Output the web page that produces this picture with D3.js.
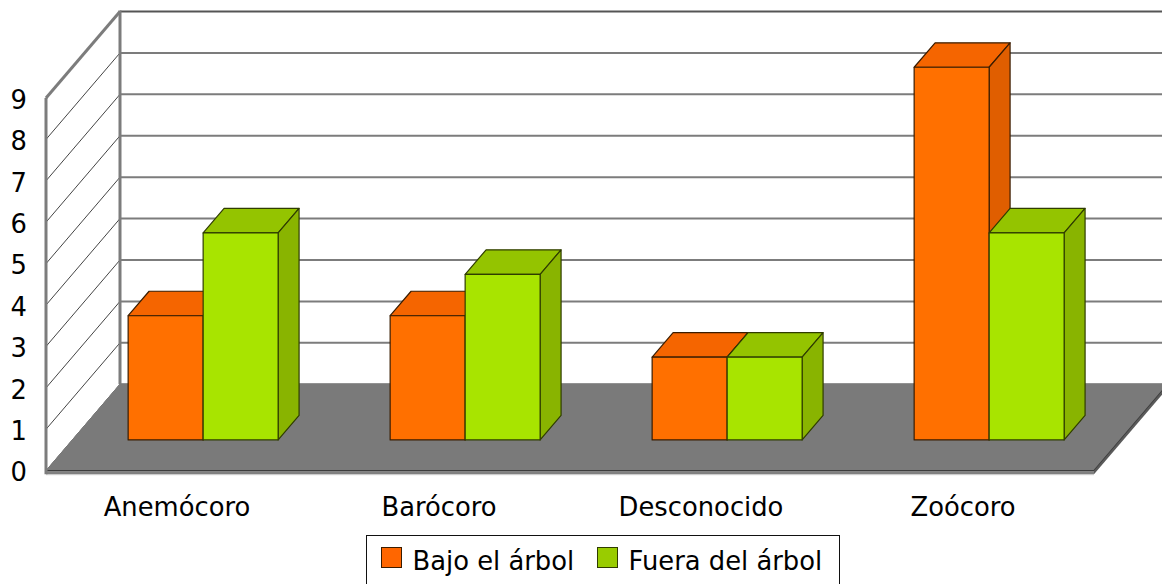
<!DOCTYPE html>
<html><head><meta charset="utf-8">
<script src="https://cdn.jsdelivr.net/npm/d3@7/dist/d3.min.js"></script>
<style>html,body{margin:0;padding:0;background:#fff;overflow:hidden}svg{display:block}text{font-family:"DejaVu Sans",sans-serif;fill:#000}</style>
</head><body><div id="c"></div>
<script>
const categories = ["Anemócoro","Barócoro","Desconocido","Zoócoro"];
const bajo = [3,3,2,9];
const fuera = [5,4,2,5];
const seriesNames = ["Bajo el árbol","Fuera del árbol"];
const yTicks = [0,1,2,3,4,5,6,7,8,9];
const W=1162,H=584,fs=25.8;
const svg=d3.select("#c").append("svg").attr("width",W).attr("height",H);
const x=d3.scaleBand().domain(categories).range([46,1094]);
const y=d3.scaleLinear().domain([0,9]).range([470.7,98]);
const dx=74,dy=-86.5;          // full floor depth
const f=0.36,bd=0.283;          // bar plane and bar depth as a share of it
const barW=75;
const pal=[{front:"#ff7000",top:"#f56500",side:"#e05e00",stroke:"#3a1c00",leg:"#ff6600"},
           {front:"#a8e400",top:"#94c400",side:"#89b400",stroke:"#2f3c00",leg:"#99cc00"}];
const line=d3.line();
// walls
const gridC="#7c7c7c";
yTicks.forEach(t=>{
  svg.append("path").attr("d",line([[x.range()[0],y(t)],[x.range()[0]+dx,y(t)+dy]])).attr("fill","none")
    .attr("stroke",t===9?"#7c7c7c":"#444").attr("stroke-width",t===9?3:1);
  svg.append("path").attr("d",line([[x.range()[0]+dx,y(t)+dy],[W+4,y(t)+dy]])).attr("fill","none")
    .attr("stroke",t===9?"#555":gridC).attr("stroke-width",2);
});
// floor
const fx0=x.range()[0],fx1=x.range()[1];
svg.append("path").attr("d",line([[fx0,y(0)],[fx0+dx,y(0)+dy],[fx1+dx,y(0)+dy],[fx1,y(0)]])+"Z")
  .attr("fill","#7a7a7a").attr("stroke","#7a7a7a").attr("stroke-width",1);
svg.append("path").attr("d",line([[fx0,y(0)],[fx1,y(0)],[fx1+dx,y(0)+dy]])).attr("fill","none").attr("stroke","#3c3c3c").attr("stroke-width",1.5);
svg.append("path").attr("d",line([[fx0,y(0)+.5],[fx1,y(0)+.5],[fx1,y(0)+3.5],[fx0,y(0)+3.5]])+"Z").attr("fill","#808080").attr("stroke","none");
svg.append("path").attr("d",line([[fx1,y(0)+3.5],[fx1+dx,y(0)+dy+3.5],[fx1+dx,y(0)+dy],[fx1,y(0)]])+"Z").attr("fill","#5a5a5a");
svg.append("path").attr("d",line([[fx0,y(0)+4],[fx1,y(0)+4]])).attr("stroke","#c8c8c8").attr("stroke-width",1).attr("fill","none");
// wall frames
svg.append("path").attr("d",line([[fx0,y(9)],[fx0,y(0)+3.5]])).attr("stroke","#7c7c7c").attr("stroke-width",3).attr("fill","none");
svg.append("path").attr("d",line([[fx0+dx,y(9)+dy-1],[fx0+dx,y(0)+dy]])).attr("stroke","#7c7c7c").attr("stroke-width",3).attr("fill","none");
// bars
const sx=f*dx-0.5,sy=f*dy+0.4,ddx=bd*dx,ddy=bd*dy;
function bar(cat,v,s,left){
  const p=pal[s];
  const cx=x(cat)+x.bandwidth()/2+sx;
  const x0=left?cx-barW:cx,x1=x0+barW,yT=y(v)+sy,yB=y(0)+sy;
  const g=svg.append("g").attr("stroke",p.stroke).attr("stroke-width",1.2).attr("stroke-linejoin","round");
  g.append("path").attr("fill",p.top).attr("d",line([[x0,yT],[x0+ddx,yT+ddy],[x1+ddx,yT+ddy],[x1,yT]])+"Z");
  g.append("path").attr("fill",p.side).attr("d",line([[x1,yT],[x1+ddx,yT+ddy],[x1+ddx,yB+ddy],[x1,yB]])+"Z");
  g.append("path").attr("fill",p.front).attr("d",line([[x0,yT],[x1,yT],[x1,yB],[x0,yB]])+"Z");
}
categories.forEach((c,i)=>{bar(c,bajo[i],0,true);bar(c,fuera[i],1,false);});
// axes
const ay=svg.append("g").attr("transform","translate(27,2)").call(d3.axisLeft(y).tickValues(yTicks).tickSize(0).tickPadding(0));
ay.select(".domain").remove();
ay.selectAll("text").attr("font-size",fs).attr("font-family",null).style("fill","#000");
const ax=svg.append("g").attr("transform","translate(0,497.5)").call(d3.axisBottom(x).tickSize(0).tickPadding(0));
ax.select(".domain").remove();
ax.selectAll("text").attr("font-size",fs).attr("font-family",null).style("fill","#000");
// legend
svg.append("rect").attr("x",366.5).attr("y",535.5).attr("width",473).attr("height",60).attr("fill","#fff").attr("stroke","#111").attr("stroke-width",1);
const legX=[381.5,597.5];
seriesNames.forEach((n,i)=>{
  svg.append("rect").attr("x",legX[i]).attr("y",547.5).attr("width",20).attr("height",20).attr("fill",pal[i].leg).attr("stroke",i?"#2f3c00":"#3a1c00").attr("stroke-width",1);
  svg.append("text").attr("x",legX[i]+31).attr("y",570).attr("font-size",fs).text(n);
});
</script></body></html>
